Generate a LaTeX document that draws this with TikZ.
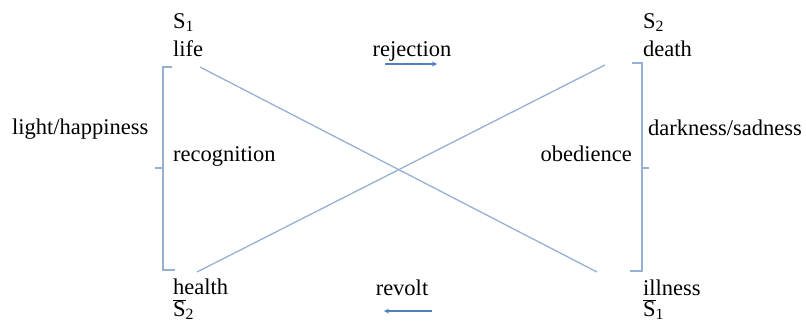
\documentclass[tikz,border=0pt]{standalone}
\usepackage{fontspec}
\setmainfont{Liberation Serif}
\definecolor{lineblue}{RGB}{150,176,210}
\definecolor{arrowblue}{RGB}{79,129,189}
\begin{document}
\begin{tikzpicture}[
    x=1pt, y=-1pt,
    lbl/.style={inner sep=0pt, font=\fontsize{22.5}{27}\selectfont},
    term/.style={lbl, anchor=base west},
    link/.style={lineblue, line width=1.3pt},
    brk/.style={lineblue, line width=1.2pt},
    arr/.style={->, >=stealth, arrowblue, line width=1.2pt},
]
\useasboundingbox (0,0) rectangle (806,324);

% the four corners of the square
\node[term] (s1)    at (173,28)  {S\textsubscript{1}};
\node[term] (life)  at (173,56)  {life};
\node[term] (s2)    at (643,28)  {S\textsubscript{2}};
\node[term] (death) at (643,56)  {death};
\node[term] (health) at (173,294) {health};
\node[term] (ns2)    at (173,316) {$\overline{\mbox{S}}$\textsubscript{2}};
\node[term] (illness) at (643,295) {illness};
\node[term] (ns1)     at (643,316) {$\overline{\mbox{S}}$\textsubscript{1}};

% relations
\node[lbl, anchor=base] (reject) at (412,56)  {rejection};
\node[lbl, anchor=base] (revolt) at (402,295) {revolt};
\node[term] (light) at (12,134)  {light/happiness};
\node[term] (recog) at (173,161) {recognition};
\node[lbl, anchor=base east] (obed) at (632,161) {obedience};
\node[term] (dark) at (648,135) {darkness/sadness};

\coordinate (rA) at (385,64);
\coordinate (rB) at (437,64);
\coordinate (vA) at (432,311);
\coordinate (vB) at (384,311);
\draw[arr] (rA) -- (rB);
\draw[arr] (vA) -- (vB);

% diagonals
\coordinate (tl) at (200,67);
\coordinate (br) at (597,272);
\coordinate (bl) at (197,272);
\coordinate (tr) at (605,65);
\draw[link] (tl) -- (br);
\draw[link] (bl) -- (tr);

% brackets
\draw[brk] (172,67) -- (163,67) -- (163,270) -- (175,270);
\draw[brk] (163,168) -- (155,168);
\draw[brk] (632,63) -- (642,63) -- (642,271) -- (630,271);
\draw[brk] (642,168) -- (649,168);
\end{tikzpicture}
\end{document}
